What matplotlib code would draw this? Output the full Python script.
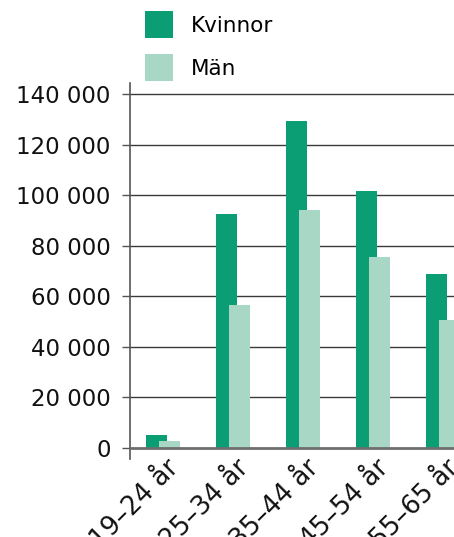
import matplotlib
matplotlib.use("Agg")
import matplotlib.pyplot as plt
import matplotlib.transforms as mtransforms
import numpy as np
from matplotlib.ticker import FuncFormatter

categories = ["19–24 år", "25–34 år", "35–44 år", "45–54 år", "55–65 år"]
kvinnor = [5100, 92500, 129300, 101600, 68800]
man = [2900, 56500, 94100, 75500, 50600]
series_labels = ["Kvinnor", "Män"]
yticks = [0, 20000, 40000, 60000, 80000, 100000, 120000, 140000]

dark = "#0b9e74"
light = "#a8d7c6"

plt.rcParams['font.family'] = ['DejaVu Sans']

W, H = 454, 537
fig = plt.figure(figsize=(W/100, H/100), dpi=100)
ax = fig.add_axes([130/W, (H-459)/H, (W-130)/W, 376/H])

x = np.arange(len(categories))
bw = 0.3
off = 0.093
b1 = ax.bar(x - off, kvinnor, width=bw, color=dark, label=series_labels[0], zorder=3)
b2 = ax.bar(x + off, man, width=bw, color=light, label=series_labels[1], zorder=4)

ax.set_xlim(-0.471, 4.157)
ax.set_ylim(-4350, 144350)
ax.set_yticks(yticks)
ax.yaxis.set_major_formatter(FuncFormatter(lambda v, p: f"{int(v):,}".replace(",", " ")))
for v in yticks[1:]:
    ax.axhline(v, color="#3a3a3a", lw=1.0, zorder=1)
ax.axhline(0, color="#6e6e6e", lw=2.0, zorder=5)

for s in ["top", "right", "bottom"]:
    ax.spines[s].set_visible(False)
ax.spines["left"].set_color("#555555")
ax.spines["left"].set_linewidth(1.2)

ax.tick_params(axis="y", length=6, width=1, color="#555555", labelsize=16.5, pad=8, labelcolor="#111111")
ax.set_xticks(x)
ax.set_xticklabels(categories, rotation=45, ha="right", rotation_mode="anchor", fontsize=18.5, color="#111111")
ax.tick_params(axis="x", length=0, pad=0)
offset = mtransforms.ScaledTranslation(3/100, 4/100, fig.dpi_scale_trans)
for lab in ax.get_xticklabels():
    lab.set_transform(lab.get_transform() + offset)

leg = fig.legend(handles=[b1, b2], labels=series_labels, loc="upper left",
                 bbox_to_anchor=(128/W, 1 + 6/H), frameon=False, fontsize=15.5,
                 handlelength=1.3, handleheight=1.55, handletextpad=0.8,
                 labelspacing=0.75, borderpad=0.3)

fig.savefig("out.png", dpi=100)
